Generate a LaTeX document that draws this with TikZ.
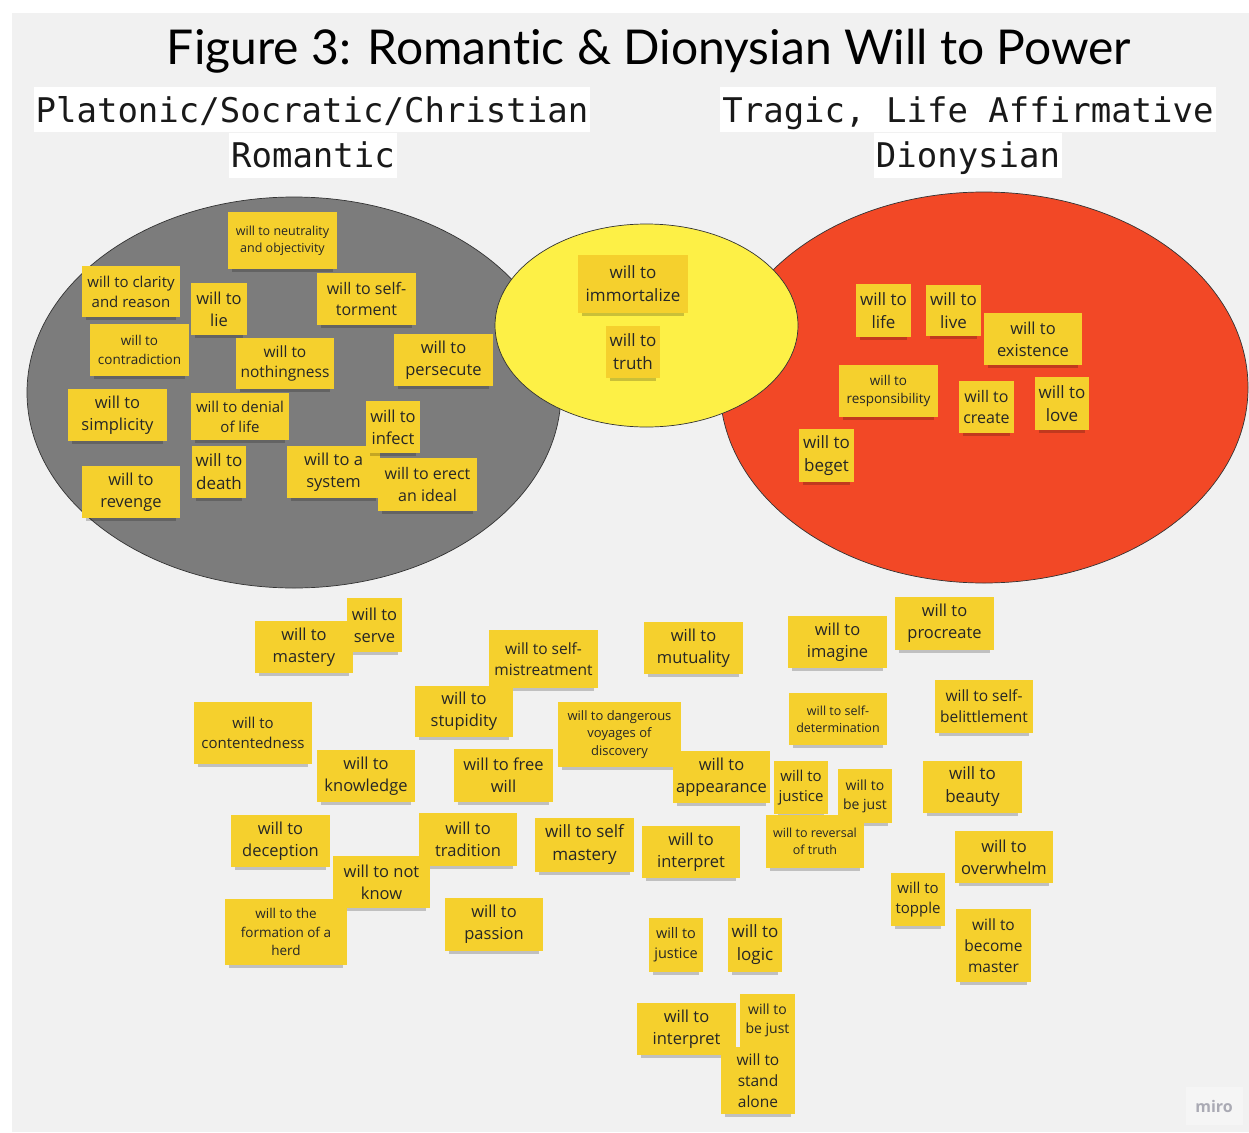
\documentclass[tikz,border=0pt]{standalone}
\usepackage{fontspec}
\setmainfont{Open Sans}
\newfontfamily\titlefont[Ligatures=NoCommon]{Lato}
\newfontfamily\hdrfont{DejaVu Sans Mono}
\definecolor{bggray}{RGB}{241,241,241}
\definecolor{graye}{RGB}{124,124,124}
\definecolor{yele}{RGB}{253,240,70}
\definecolor{rede}{RGB}{242,72,38}
\definecolor{stickyc}{RGB}{245,208,45}
\definecolor{notetext}{RGB}{38,38,38}
\definecolor{mirotext}{RGB}{170,170,180}
\newcommand\nfs[1]{\fontsize{#1}{\dimexpr #1pt*27/20\relax}\selectfont}
\tikzset{
  note/.style={rectangle, fill=stickyc, text=notetext, align=center, inner sep=0pt},
  notesh/.style={black, opacity=.2},
  venn/.style={draw=black!80, line width=0.7pt},
  hdr/.style={fill=white, font=\hdrfont\fontsize{34}{40}\selectfont, text=black!90,
    text height=35pt, text depth=10pt, inner ysep=0pt, inner xsep=2pt},
}
% #1 name, #2 x1, #3 y1, #4 x2, #5 y2, #6 font size, #7 text
\newcommand\stick[7]{%
  \fill[notesh] ({#2+4},{#5-1}) rectangle ({#4-4},{#5+3});
  \node[note, minimum width={(#4)-(#2)}, minimum height={(#5)-(#3)}, font=\nfs{#6}]
    (#1) at ({(#2+#4)/2},{(#3+#5)/2}) {#7};
}
\begin{document}
\begin{tikzpicture}[x=1pt,y=-1pt]
\useasboundingbox (0,0) rectangle (1249,1132);
\fill[bggray] (12,13) rectangle (1249,1132);

% title
\node[font=\titlefont\fontsize{48}{54}\selectfont, anchor=base, text=black] (title) at (649,64)
  {Figure 3: Romantic \& Dionysian Will to Power};

% headers
\node[hdr] (h1a) at (312,109.5) {Platonic/Socratic/Christian};
\node[hdr] (h1b) at (313,155) {Romantic};
\node[hdr] (h2a) at (968,109.5) {Tragic, Life Affirmative};
\node[hdr] (h2b) at (968,155) {Dionysian};

% ellipses
\filldraw[venn, fill=graye] (294,392.5) ellipse [x radius=267pt, y radius=195.5pt];
\filldraw[venn, fill=rede] (984,387.5) ellipse [x radius=264pt, y radius=195.5pt];
\filldraw[venn, fill=yele] (646.5,325.5) ellipse [x radius=151.5pt, y radius=101.5pt];

% notes in grey ellipse
\stick{neutral}{228}{212}{337}{269}{12.5}{will to neutrality\\and objectivity}
\stick{clarity}{82}{266}{180}{317}{15}{will to clarity\\and reason}
\stick{lie}{191}{283}{247}{335}{16.5}{will to\\lie}
\stick{torment}{317}{273}{416}{325}{16}{will to self-\\torment}
\stick{contra}{90}{324}{189}{376}{13.5}{will to\\contradiction}
\stick{nothing}{236}{338}{334}{389}{15.5}{will to\\nothingness}
\stick{persec}{394}{334}{493}{386}{16.5}{will to\\persecute}
\stick{simpl}{68}{389}{167}{441}{16.5}{will to\\simplicity}
\stick{denial}{191}{393}{289}{440}{15}{will to denial\\of life}
\stick{death}{192}{446}{246}{498}{17}{will to\\death}
\stick{system}{287}{446}{380}{498}{16.5}{will to a\\system}
\stick{infect}{366}{401}{420}{453}{16.5}{will to\\infect}
\stick{revenge}{82}{466}{180}{518}{16.5}{will to\\revenge}
\stick{erect}{378}{458}{477}{511}{16}{will to erect\\an ideal}

% notes in yellow ellipse
\stick{immort}{578}{255}{688}{313}{17}{will to\\immortalize}
\stick{truth}{606}{326}{660}{378}{17}{will to\\truth}

% notes in red ellipse
\stick{life}{856}{284}{911}{337}{17}{will to\\life}
\stick{live}{926}{285}{981}{336}{17}{will to\\live}
\stick{exist}{984}{313}{1082}{365}{16.5}{will to\\existence}
\stick{resp}{839}{365}{938}{417}{13.5}{will to\\responsibility}
\stick{create}{959}{381}{1014}{433}{16}{will to\\create}
\stick{love}{1035}{377}{1089}{430}{17}{will to\\love}
\stick{beget}{799}{429}{854}{482}{17}{will to\\beget}

% notes outside
\stick{serve}{347}{598}{402}{652}{16.5}{will to\\serve}
\stick{mastery}{255}{621}{353}{673}{16.5}{will to\\mastery}
\stick{mistreat}{489}{630}{598}{688}{15.5}{will to self-\\mistreatment}
\stick{stupid}{415}{686}{513}{737}{16.5}{will to\\stupidity}
\stick{content}{194}{702}{312}{764}{15}{will to\\contentedness}
\stick{knowledge}{317}{750}{415}{802}{16.5}{will to\\knowledge}
\stick{freewill}{454}{749}{553}{802}{16.5}{will to free\\will}
\stick{deception}{231}{815}{330}{867}{16.5}{will to\\deception}
\stick{tradition}{419}{813}{517}{866}{16.5}{will to\\tradition}
\stick{notknow}{333}{856}{430}{908}{16.5}{will to not\\know}
\stick{herd}{225}{899}{347}{965}{13.5}{will to the\\formation of a\\herd}
\stick{passion}{445}{898}{543}{951}{16.5}{will to\\passion}
\stick{danger}{558}{702}{681}{767}{13}{will to dangerous\\voyages of\\discovery}
\stick{selfmast}{535}{818}{634}{872}{17}{will to self\\mastery}
\stick{mutual}{644}{622}{743}{674}{16.5}{will to\\mutuality}
\stick{imagine}{788}{616}{887}{668}{16.5}{will to\\imagine}
\stick{procreate}{895}{597}{994}{650}{16.5}{will to\\procreate}
\stick{determ}{789}{693}{887}{745}{12.5}{will to self-\\determination}
\stick{belittle}{935}{680}{1033}{733}{15.5}{will to self-\\belittlement}
\stick{appear}{673}{751}{770}{803}{16.5}{will to\\appearance}
\stick{justiceA}{774}{761}{828}{814}{15}{will to\\justice}
\stick{bejustA}{838}{769}{892}{823}{14}{will to\\be just}
\stick{reversal}{766}{815}{864}{868}{12.5}{will to reversal\\of truth}
\stick{beauty}{923}{761}{1022}{813}{17}{will to\\beauty}
\stick{interpA}{642}{826}{740}{878}{16.5}{will to\\interpret}
\stick{overwhelm}{955}{831}{1053}{883}{16.5}{will to\\overwhelm}
\stick{topple}{891}{873}{945}{926}{15}{will to\\topple}
\stick{justiceB}{649}{918}{703}{972}{14.5}{will to\\justice}
\stick{logic}{728}{918}{782}{972}{17}{will to\\logic}
\stick{become}{956}{909}{1031}{982}{15.5}{will to\\become\\master}
\stick{interpB}{637}{1003}{736}{1055}{16.5}{will to\\interpret}
\stick{bejustB}{740}{994}{795}{1047}{14}{will to\\be just}
\stick{stand}{721}{1047}{795}{1114}{15.5}{will to\\stand\\alone}

% miro logo
\node[fill=white, fill opacity=.3, text opacity=1, text=mirotext,
  font=\bfseries\fontsize{16}{18}\selectfont, minimum width=57pt, minimum height=38pt,
  inner sep=0pt] (miro) at (1214,1106) {miro};
\end{tikzpicture}
\end{document}
